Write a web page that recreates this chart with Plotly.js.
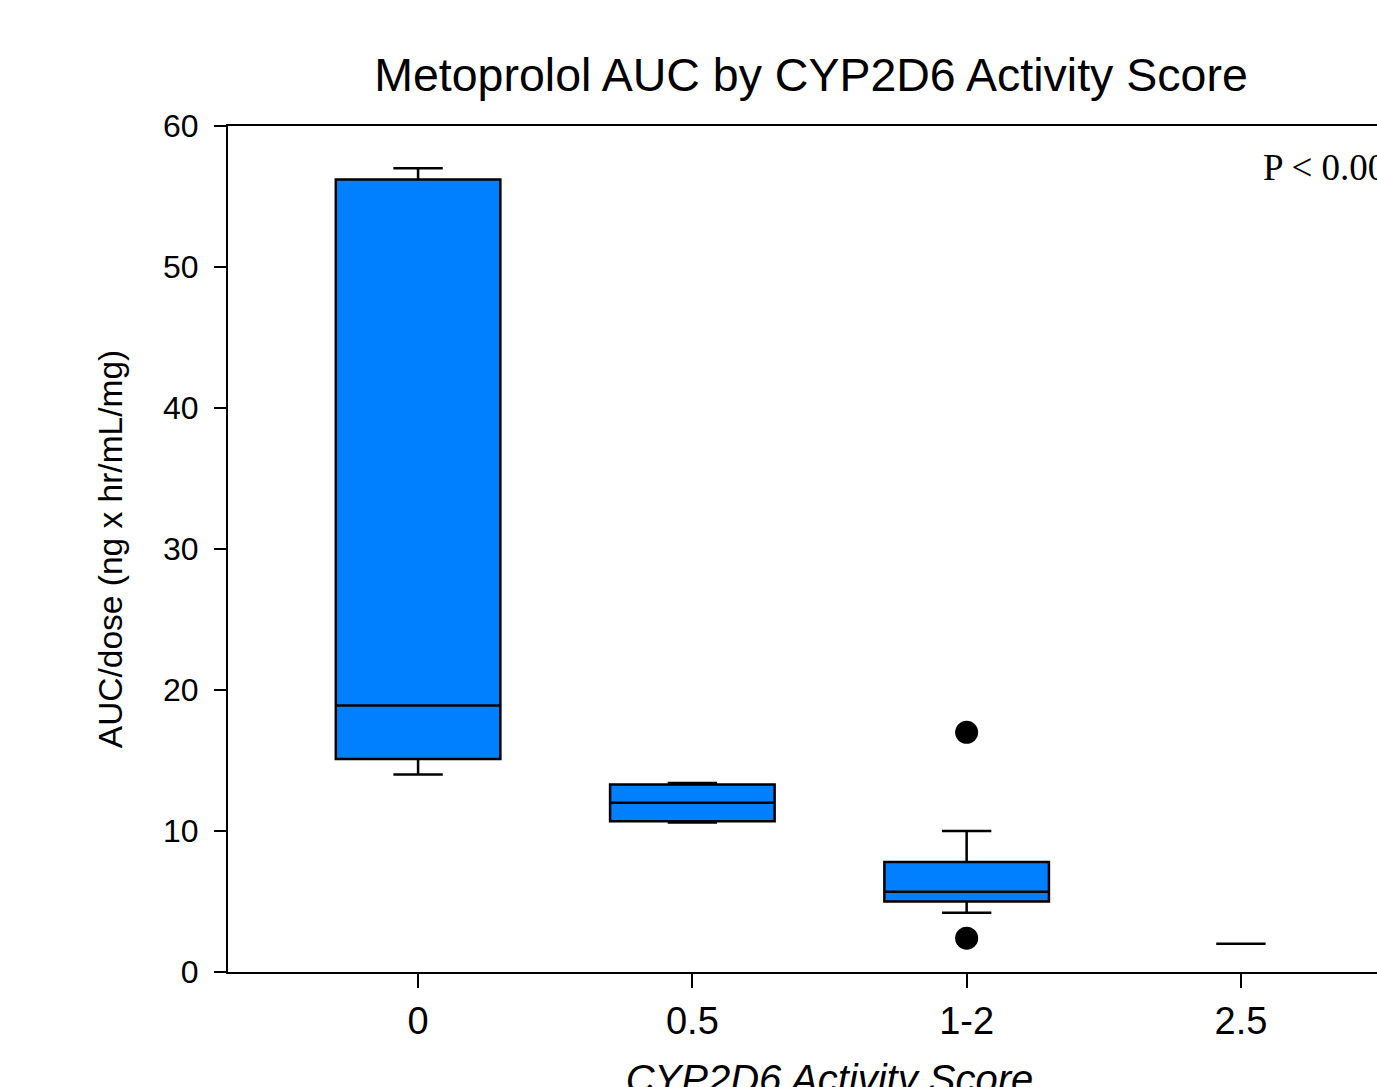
<!DOCTYPE html>
<html>
<head>
<meta charset="utf-8">
<script src="https://cdn.plot.ly/plotly-3.0.1.min.js"></script>
<style>
  html, body { margin: 0; padding: 0; overflow: hidden; background: #ffffff; }
  #chart { width: 1622px; height: 1120px; }
</style>
</head>
<body>
<div id="chart"></div>
<script>
// ---- data ----
const categories = ["0", "0.5", "1-2"];
const q1Values = [15.1, 10.7, 5.0];
const medianValues = [18.9, 12.0, 5.7];
const q3Values = [56.2, 13.3, 7.8];
const lowerWhisker = [14.0, 10.6, 4.2];
const upperWhisker = [57.0, 13.4, 10.0];

const singleCategory = ["2.5"];
const singleValue = [2.0];

const outlierCategories = ["1-2", "1-2"];
const outlierValues = [17.0, 2.4];

const tickLabels = ["0", "0.5", "1-2", "2.5"];
const pValueText = "P < 0.001";

const boxFill = "rgb(0,128,255)";

const traces = [
  {
    type: "box",
    x: categories,
    q1: q1Values,
    median: medianValues,
    q3: q3Values,
    lowerfence: lowerWhisker,
    upperfence: upperWhisker,
    boxpoints: false,
    width: 0.6,
    whiskerwidth: 0.3,
    fillcolor: boxFill,
    line: { color: "#000000", width: 2.5 },
    hoverinfo: "skip",
    showlegend: false
  },
  {
    type: "box",
    x: singleCategory,
    q1: singleValue,
    median: singleValue,
    q3: singleValue,
    lowerfence: singleValue,
    upperfence: singleValue,
    boxpoints: false,
    width: 0.18,
    fillcolor: "rgba(0,0,0,0)",
    line: { color: "#000000", width: 2.5 },
    hoverinfo: "skip",
    showlegend: false
  },
  {
    type: "scatter",
    mode: "markers",
    x: outlierCategories,
    y: outlierValues,
    marker: { color: "#000000", size: 23, symbol: "circle" },
    hoverinfo: "skip",
    showlegend: false
  }
];

const layout = {
  width: 1622,
  height: 1120,
  margin: { l: 228, r: 191, t: 126, b: 148 },
  paper_bgcolor: "#ffffff",
  plot_bgcolor: "#ffffff",
  font: { family: "Liberation Sans, Arial, sans-serif", color: "#000000" },
  title: {
    text: "Metoprolol AUC by CYP2D6 Activity Score",
    font: { family: "Liberation Sans, Arial, sans-serif", size: 46.5, color: "#000000" },
    xref: "container",
    x: 0.5,
    xanchor: "center",
    yref: "container",
    y: 1 - 75 / 1120,
    yanchor: "middle"
  },
  xaxis: {
    type: "category",
    categoryorder: "array",
    categoryarray: tickLabels,
    tickvals: tickLabels,
    ticktext: tickLabels,
    range: [-0.693, 3.693],
    showgrid: false,
    zeroline: false,
    showline: true,
    linecolor: "#000000",
    linewidth: 2,
    mirror: true,
    ticks: "outside",
    ticklen: 14,
    tickwidth: 2,
    tickcolor: "#000000",
    tickfont: { family: "Liberation Sans, Arial, sans-serif", size: 38, color: "#000000" },
    title: {
      text: "<i>CYP2D6 Activity Score</i>",
      font: { family: "Liberation Sans, Arial, sans-serif", size: 40, color: "#000000" },
      standoff: 24
    }
  },
  yaxis: {
    range: [0, 60],
    dtick: 10,
    tick0: 0,
    showgrid: false,
    zeroline: false,
    showline: true,
    linecolor: "#000000",
    linewidth: 2,
    mirror: true,
    ticks: "outside",
    ticklen: 12,
    tickwidth: 2,
    tickcolor: "#000000",
    ticklabelstandoff: 9,
    tickfont: { family: "Liberation Sans, Arial, sans-serif", size: 32, color: "#000000" },
    title: {
      text: "AUC/dose (ng x hr/mL/mg)",
      font: { family: "Liberation Sans, Arial, sans-serif", size: 33.5, color: "#000000" },
      standoff: 30
    }
  },
  annotations: [
    {
      text: pValueText,
      xref: "paper",
      yref: "paper",
      x: (1261 - 228) / (1622 - 228 - 191),
      y: (972 - 167) / (972 - 126),
      xanchor: "left",
      yanchor: "middle",
      showarrow: false,
      font: { family: "Liberation Serif, Times New Roman, serif", size: 37, color: "#000000" }
    }
  ]
};

Plotly.newPlot("chart", traces, layout, { displayModeBar: false, staticPlot: true });
</script>
</body>
</html>
